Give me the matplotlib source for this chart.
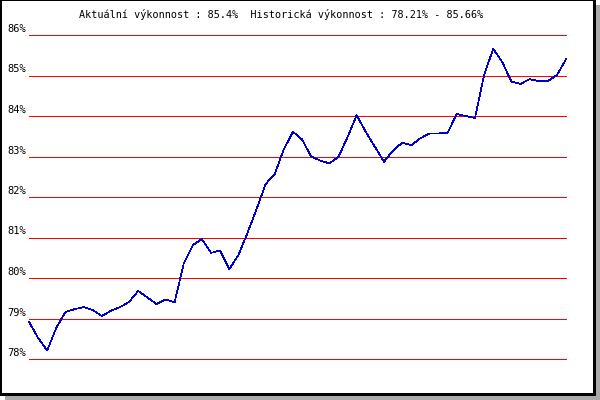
import matplotlib
matplotlib.use('Agg')
import matplotlib.pyplot as plt
from matplotlib.patches import Rectangle

# performance values (%), one per step
values = [78.92, 78.52, 78.21, 78.77, 79.16, 79.23, 79.28, 79.21, 79.06, 79.19,
          79.28, 79.41, 79.68, 79.52, 79.36, 79.47, 79.40, 80.36, 80.81, 80.96,
          80.62, 80.68, 80.22, 80.56, 81.11, 81.70, 82.32, 82.57, 83.18, 83.61,
          83.42, 83.00, 82.90, 82.83, 82.99, 83.48, 84.02, 83.61, 83.24, 82.87,
          83.15, 83.34, 83.28, 83.45, 83.57, 83.57, 83.59, 84.05, 84.00, 83.95,
          85.01, 85.66, 85.33, 84.85, 84.79, 84.91, 84.86, 84.86, 85.01, 85.40]
y_ticks = [78, 79, 80, 81, 82, 83, 84, 85, 86]
title = 'Aktuální výkonnost : 85.4%  Historická výkonnost : 78.21% - 85.66%'

W, H = 600, 400
fig = plt.figure(figsize=(W / 100, H / 100), dpi=100)
fig.patch.set_facecolor('white')

def px_rect(x0, y0, x1, y1, color, z):
    # rectangle given in image pixels (origin top-left)
    fig.add_artist(Rectangle((x0 / W, 1 - y1 / H), (x1 - x0) / W, (y1 - y0) / H,
                             transform=fig.transFigure, facecolor=color,
                             edgecolor='none', zorder=z))

# drop shadow, black frame, white panel
px_rect(5, 5, 600, 400, '#aaaaaa', -3)
px_rect(0, 0, 596, 396, 'black', -2)
px_rect(2, 1, 593, 393, 'white', -1)

ax = fig.add_axes([29 / W, 1 - 359 / H, (566 - 29) / W, (359 - 35) / H])
ax.patch.set_alpha(0)
ax.axis('off')
ax.set_xlim(0, len(values) - 1)
ax.set_ylim(78, 86)

mono = 'DejaVu Sans Mono'
onepx = 0.72  # one pixel at 100 dpi, in points
for t in y_ticks:
    ax.axhline(t, color='#ff0000', lw=onepx, antialiased=False, clip_on=False)
    ax.annotate(f'{t}%', xy=(0, t), xycoords=('axes fraction', 'data'),
                xytext=(-3, 3), textcoords='offset pixels', ha='right',
                va='baseline', fontsize=7.5, family=mono, color='black')

ax.plot(range(len(values)), values, color='#0000cc', lw=0.5, antialiased=False,
        clip_on=False)

fig.text(281 / W, 1 - 14 / H, title, ha='center', va='center', fontsize=7.3,
         family=mono, color='black')

fig.savefig('out.png', dpi=100)
